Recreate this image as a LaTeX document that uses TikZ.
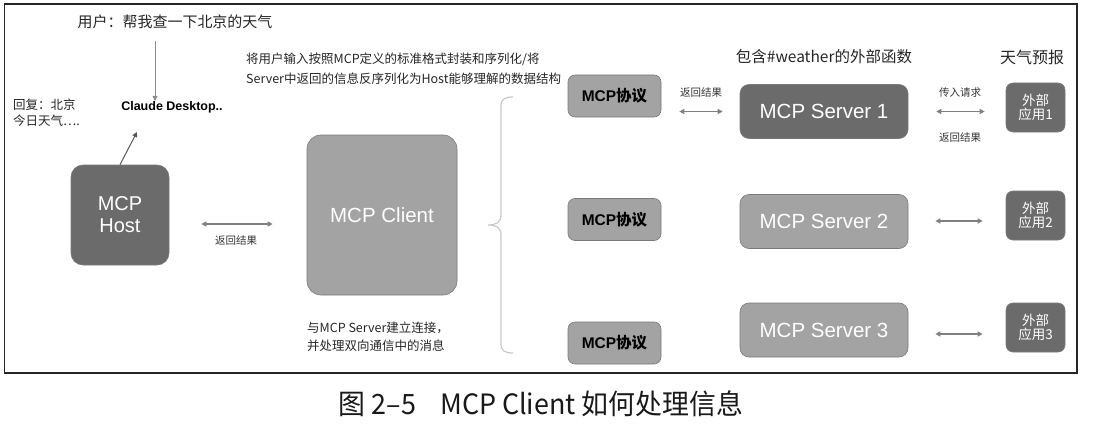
\documentclass[tikz,border=0pt]{standalone}
\usepackage{fontspec}
\usepackage{graphicx}
\setmainfont{Noto Sans CJK SC}
\newfontfamily\arial{Liberation Sans}
\usetikzlibrary{arrows.meta}
\definecolor{darkbox}{HTML}{6B6B6B}
\definecolor{lightbox}{HTML}{A3A3A3}
\definecolor{boxline}{HTML}{7A7A7A}
\definecolor{arrowgray}{HTML}{808080}
\definecolor{bracegray}{HTML}{C8C8C8}
\newcommand{\fs}[1]{\fontsize{#1}{#1}\selectfont}
\tikzset{
  darkrect/.style={draw=boxline, line width=0.6pt, fill=darkbox, text=white, rounded corners=9pt, inner sep=0pt, align=center},
  lightrect/.style={draw=boxline, line width=0.6pt, fill=lightbox, text=white, rounded corners=9pt, inner sep=0pt, align=center},
  protorect/.style={draw=boxline, line width=0.6pt, fill=lightbox, text=black, rounded corners=7pt, inner sep=0pt, minimum width=93pt, minimum height=42pt},
  serverfont/.style={font=\arial\fs{20.5}},
  appfont/.style={font=\fs{13.5}, text=white},
  dbl/.style={{Triangle[length=5pt,width=5pt]}-{Triangle[length=5pt,width=5pt]}, draw=arrowgray, line width=1.3pt},
  sarrow/.style={-{Triangle[length=5pt,width=5pt]}, line width=1pt},
  small/.style={font=\fs{10.5}, text=black!80, inner sep=0pt},
  txt/.style={inner sep=0pt, text=black!85}
}
\begin{document}
\begin{tikzpicture}[x=1pt,y=-1pt]
\useasboundingbox (0,0) rectangle (1096,428);
% frame
\draw[line width=1.8pt, black!85] (4.5,4) rectangle (1077,373);

% left side
\node[txt, font=\fs{15}] (user) at (175,22) {用户：帮我查一下北京的天气};
\node[txt, font=\arial\bfseries\fs{12.5}, text=black] (claude) at (172,107) {Claude Desktop..};
\node[txt, font=\fs{12.5}, align=left, anchor=west] (reply) at (13,112.5) {回复：北京\\[3pt]今日天气….};
\node[darkrect, minimum width=98pt, minimum height=100pt, rounded corners=12pt, font=\arial\fs{20}] (host) at (120,215) {MCP\\[2pt]Host};
\node[lightrect, minimum width=150pt, minimum height=160pt, rounded corners=14pt, font=\arial\fs{20.5}] (client) at (382,215) {MCP Client};

\coordinate (claudein) at (137,132);
\draw[sarrow, draw=black!45] (user.south) ++(-20,12) coordinate (ustart) -- (ustart |- claude.north);
\draw[sarrow, draw=black!65] (host.north) -- (claudein);
\draw[dbl, shorten <=32pt, shorten >=34pt] ([yshift=-9pt]host.east) -- ([yshift=-9pt]host.east -| client.west);
\node[small] (lbl0) at (236,241) {返回结果};

% description texts
\node[txt, font=\fs{12.5}, align=left, anchor=north west] (desc1) at (246,53) {将用户输入按照MCP定义的标准格式封装和序列化/将\\[5.5pt]Server中返回的信息反序列化为Host能够理解的数据结构};
\node[txt, font=\fs{12.5}, align=left, anchor=north west] (desc2) at (307,322) {与MCP Server建立连接，\\[5pt]并处理双向通信中的消息};

% brace
\draw[bracegray, line width=1.2pt] (513,97) .. controls (505,97) and (501,99) .. (501,106)
  -- (501,216) .. controls (501,222) and (496,225) .. (488,225)
  .. controls (496,225) and (501,228) .. (501,234)
  -- (501,344) .. controls (501,351) and (505,353) .. (513,353);

% protocol boxes
\node[protorect, font=\arial\bfseries\fs{15.5}] (p1) at (614.5,96) {MCP{\normalfont\bfseries\fs{15.5}协议}};
\node[protorect, font=\arial\bfseries\fs{15.5}] (p2) at (614.5,219.5) {MCP{\normalfont\bfseries\fs{15.5}协议}};
\node[protorect, font=\arial\bfseries\fs{15.5}] (p3) at (614.5,343) {MCP{\normalfont\bfseries\fs{15.5}协议}};

% servers
\node[txt, font=\fs{15.5}] (fn) at (824,57) {包含\#weather的外部函数};
\node[darkrect, minimum width=168pt, minimum height=54pt, serverfont] (s1) at (824,111.5) {MCP Server 1};
\node[lightrect, minimum width=168pt, minimum height=54pt, serverfont] (s2) at (824,221.5) {MCP Server 2};
\node[lightrect, minimum width=168pt, minimum height=54pt, serverfont] (s3) at (824,330) {MCP Server 3};

\draw[dbl, shorten <=18pt, shorten >=17pt] (p1.east |- s1.west) -- (s1.west);
\node[small] (lbl1) at (701,93) {返回结果};

% apps
\node[txt, font=\fs{16}] (wf) at (1032,57) {天气预报};
\node[darkrect, minimum width=59pt, minimum height=49pt, rounded corners=7pt, appfont] (a1) at (1035.5,107.5) {外部\\[1pt]应用1};
\node[darkrect, minimum width=59pt, minimum height=49pt, rounded corners=7pt, appfont] (a2) at (1035.5,215.5) {外部\\[1pt]应用2};
\node[darkrect, minimum width=59pt, minimum height=49pt, rounded corners=7pt, appfont] (a3) at (1035.5,327.5) {外部\\[1pt]应用3};

\draw[dbl, shorten <=28pt, shorten >=21pt] (s1.east) -- (s1.east -| a1.west);
\draw[dbl, shorten <=27pt, shorten >=23pt] ([yshift=0.5pt]s2.east) -- ([yshift=0.5pt]s2.east -| a2.west);
\draw[dbl, shorten <=27pt, shorten >=23pt] ([yshift=-4pt]s3.east) -- ([yshift=-4pt]s3.east -| a3.west);
\node[small] (lbl2) at (960,93) {传入请求};
\node[small] (lbl3) at (960,138) {返回结果};

% caption
\node[inner sep=0pt, text=black!90] (cap) at (541,404) {\scalebox{0.96}[1]{\fs{28}图 2–5\hspace{0.9em}MCP Client 如何处理信息}};
\end{tikzpicture}
\end{document}
